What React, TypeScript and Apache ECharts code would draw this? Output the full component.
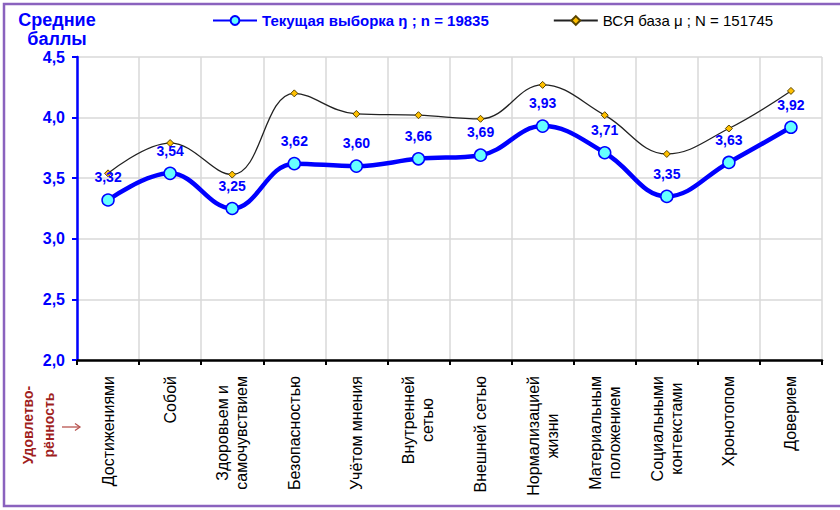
import React, { useEffect, useRef } from "react";
import * as echarts from "echarts";

const categories = [
  "Достижениями",
  "Собой",
  "Здоровьем и\nсамочувствием",
  "Безопасностью",
  "Учётом мнения",
  "Внутренней\nсетью",
  "Внешней сетью",
  "Нормализацией\nжизни",
  "Материальным\nположением",
  "Социальными\nконтекстами",
  "Хронотопом",
  "Доверием",
];
const currentValues = [3.32, 3.54, 3.25, 3.62, 3.6, 3.66, 3.69, 3.93, 3.71, 3.35, 3.63, 3.92];
const baseValues = [3.54, 3.79, 3.53, 4.2, 4.03, 4.02, 3.99, 4.27, 4.02, 3.7, 3.91, 4.22];
const currentName = "Текущая выборка ŋ ; n = 19835";
const baseName = "ВСЯ база μ ; N = 151745";
const yTicks = { min: 2, max: 4.5, interval: 0.5 };

const FONT = "'Liberation Sans', Arial, sans-serif";

export default function App() {
  const ref = useRef<HTMLDivElement>(null);
  useEffect(() => {
    if (!ref.current) return;
    const chart = echarts.init(ref.current, undefined, { renderer: "svg" });
    chart.setOption({
      animation: false,
      backgroundColor: "#fff",
      textStyle: { fontFamily: FONT },
      legend: {
        left: 207,
        top: 8,
        itemWidth: 44,
        itemHeight: 11,
        itemGap: 64,
        textStyle: { fontSize: 15, fontFamily: FONT },
        data: [
          { name: currentName, textStyle: { color: "#0000FF", fontWeight: "bold" } },
          { name: baseName, textStyle: { color: "#000", fontWeight: "normal" } },
        ],
      },
      grid: { left: 77, right: 18, top: 57, bottom: 150 },
      xAxis: {
        type: "category",
        data: categories,
        boundaryGap: true,
        axisLine: { show: true, lineStyle: { color: "#000", width: 2.5 } },
        axisTick: { show: true, length: 5, alignWithLabel: false, lineStyle: { color: "#000", width: 2 } },
        splitLine: { show: true, lineStyle: { color: "#D9D9D9", width: 1.5 } },
        axisLabel: {
          rotate: 90,
          margin: 16,
          interval: 0,
          color: "#000",
          fontSize: 16,
          fontFamily: FONT,
          formatter: (v: string) =>
            v
              .split("\n")
              .map((l) => "{c|" + l + "}")
              .join("\n"),
          rich: {
            c: { align: "center", fontSize: 16, fontFamily: FONT, color: "#000", lineHeight: 19 },
          },
        },
      },
      yAxis: {
        type: "value",
        min: yTicks.min,
        max: yTicks.max,
        interval: yTicks.interval,
        axisLine: { show: true, lineStyle: { color: "#0000FF", width: 2.5 } },
        axisTick: { show: true, length: 5, lineStyle: { color: "#0000FF", width: 2 } },
        splitLine: { show: true, lineStyle: { color: "#D9D9D9", width: 1.5 } },
        axisLabel: {
          color: "#0000FF",
          fontWeight: "bold",
          fontSize: 16,
          fontFamily: FONT,
          margin: 12,
          formatter: (v: number) => v.toFixed(1).replace(".", ","),
        },
      },
      series: [
        {
          name: baseName,
          type: "line",
          data: baseValues,
          smooth: 0.4,
          z: 2,
          symbol: "diamond",
          symbolSize: 7,
          lineStyle: { color: "#222", width: 1.3 },
          itemStyle: { color: "#FFC000", borderColor: "#5a4500", borderWidth: 1 },
          label: { show: false },
        },
        {
          name: currentName,
          type: "line",
          data: currentValues,
          smooth: 0.4,
          z: 3,
          symbol: "circle",
          symbolSize: 12,
          lineStyle: { color: "#0000FF", width: 4.5 },
          itemStyle: { color: "#66FFFF", borderColor: "#0000FF", borderWidth: 1.5 },
          label: {
            show: true,
            position: "top",
            distance: 9,
            color: "#0000FF",
            fontWeight: "bold",
            fontSize: 14,
            fontFamily: FONT,
            formatter: (p: any) => Number(p.value).toFixed(2).replace(".", ","),
          },
        },
      ],
      graphic: [
        {
          type: "rect",
          silent: true,
          shape: { x: 4, y: 4, width: 860, height: 502 },
          style: { fill: "none", stroke: "#8A62BE", lineWidth: 2.5 },
          z: -10,
        },
        {
          type: "text",
          x: 57,
          y: 10,
          style: {
            text: "Средние\nбаллы",
            fill: "#0000FF",
            font: "bold 18px " + FONT,
            lineHeight: 19,
            align: "center",
            verticalAlign: "top",
          },
        },
        {
          type: "text",
          x: 38,
          y: 425,
          rotation: Math.PI / 2,
          style: {
            text: "Удовлетво-\nрённость",
            fill: "#A01E1E",
            font: "bold 14px " + FONT,
            lineHeight: 21,
            align: "center",
            verticalAlign: "middle",
          },
        },
        {
          type: "polyline",
          silent: true,
          shape: { points: [[62, 427], [80, 427]] },
          style: { stroke: "#B85450", lineWidth: 1.3, fill: "none" },
        },
        {
          type: "polyline",
          silent: true,
          shape: { points: [[75, 423.5], [80, 427], [75, 430.5]] },
          style: { stroke: "#B85450", lineWidth: 1.3, fill: "none" },
        },
      ],
    });
    return () => chart.dispose();
  }, []);
  return (
    <div
      ref={ref}
      style={{ position: "fixed", left: 0, top: 0, width: 840, height: 510 }}
    />
  );
}
